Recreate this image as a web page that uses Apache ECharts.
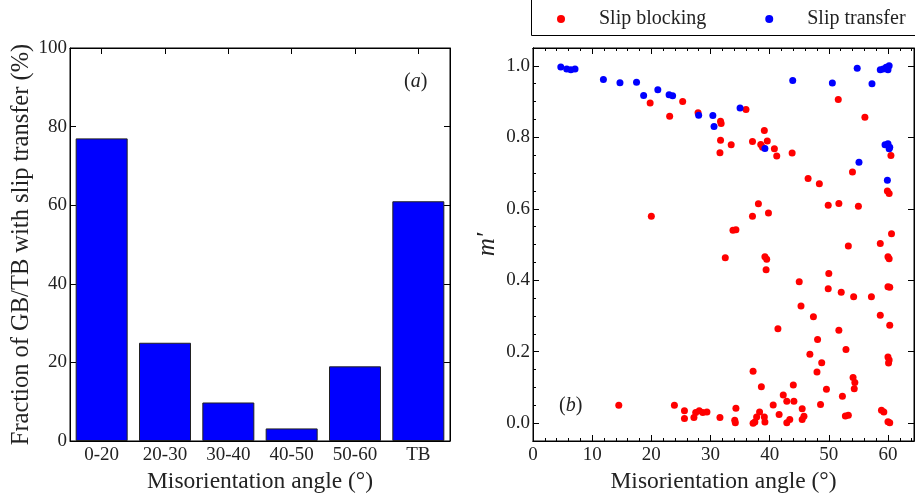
<!DOCTYPE html>
<html>
<head>
<meta charset="utf-8">
<script src="https://cdn.jsdelivr.net/npm/echarts@6/dist/echarts.min.js"></script>
<style>
html,body{margin:0;padding:0;background:#fff;}
#chart{width:915px;height:499px;}
</style>
</head>
<body>
<div id="chart"></div>
<script>
// ---- Data ----
var barCategories = ['0-20', '20-30', '30-40', '40-50', '50-60', 'TB'];
var barValues = [77, 25, 9.8, 3.2, 19, 61];
var barYTicks = [0, 20, 40, 60, 80, 100];

var slipBlocking = [
  [19.8,0.896],[25.3,0.900],[23.1,0.859],[27.9,0.869],[31.7,0.845],[31.8,0.839],[31.7,0.792],[31.6,0.757],
  [33.5,0.779],[20.0,0.579],[36.0,0.878],[51.6,0.906],[56.1,0.856],[39.1,0.819],[37.1,0.788],[38.5,0.780],
  [39.6,0.790],[38.8,0.772],[40.8,0.768],[41.2,0.748],[43.8,0.756],[60.5,0.749],[54.0,0.703],[46.5,0.685],
  [48.4,0.670],[59.9,0.650],[60.2,0.643],[38.1,0.614],[39.8,0.588],[37.1,0.579],[49.9,0.610],[51.7,0.615],
  [55.0,0.607],[33.8,0.540],[34.3,0.541],[60.6,0.530],[53.3,0.496],[58.7,0.503],[32.5,0.463],
  [39.2,0.466],[39.5,0.459],[39.4,0.429],[60.0,0.466],[60.2,0.460],[50.0,0.419],[45.0,0.396],[49.9,0.376],
  [60.0,0.382],[60.3,0.380],[52.1,0.366],[54.2,0.354],[57.2,0.354],[45.3,0.328],[47.4,0.298],[58.7,0.302],
  [60.3,0.274],[41.4,0.264],[51.7,0.260],[48.1,0.234],[52.9,0.206],[46.8,0.193],[48.8,0.169],[60.0,0.185],
  [60.2,0.177],[60.1,0.168],[37.2,0.145],[48.0,0.143],[54.1,0.128],[54.4,0.114],[54.3,0.096],[38.6,0.102],
  [44.0,0.107],[49.6,0.095],[42.3,0.079],[52.3,0.075],[42.9,0.061],[44.1,0.061],[40.6,0.051],[48.6,0.052],
  [34.3,0.042],[14.5,0.050],[23.9,0.050],[25.6,0.035],[25.6,0.013],[27.2,0.016],[27.5,0.030],[28.1,0.035],
  [28.7,0.030],[29.4,0.031],[31.6,0.016],[34.1,0.008],[34.2,0.001],[38.3,0.031],[37.8,0.017],[39.1,0.017],
  [37.5,0.003],[39.2,0.003],[37.2,0.000],[41.6,0.024],[43.4,0.010],[42.9,0.001],[45.5,0.040],[45.8,0.019],
  [45.5,0.010],[52.8,0.020],[53.3,0.022],[58.9,0.036],[59.3,0.031],[60.0,0.004],[60.3,0.001]
];
var slipTransfer = [
  [4.7,0.997],[5.7,0.991],[6.4,0.989],[7.1,0.991],[11.9,0.962],[14.7,0.953],[17.5,0.954],[18.7,0.917],
  [21.1,0.933],[23.0,0.919],[23.6,0.916],[28.0,0.862],[30.4,0.861],[30.6,0.830],[35.0,0.882],[39.2,0.769],
  [43.9,0.959],[50.6,0.952],[54.8,0.993],[57.3,0.950],[58.7,0.989],[59.2,0.991],[59.7,0.996],[60.2,1.000],
  [60.0,0.989],[55.1,0.730],[59.5,0.779],[60.0,0.782],[60.3,0.772],[60.2,0.768],[59.9,0.680]
];
var scatterXTicks = [0, 10, 20, 30, 40, 50, 60];
var scatterYTicks = [0.0, 0.2, 0.4, 0.6, 0.8, 1.0];

// ---- Chart ----
var FONT = 'Liberation Serif';
var TXT = '#222';
var chart = echarts.init(document.getElementById('chart'), null, {renderer: 'canvas'});

function tickOnly(extra) {
  var base = {
    axisLine: {show: true, onZero: false, lineStyle: {color: '#000', width: 1}},
    axisTick: {show: true, inside: true, length: 6, lineStyle: {color: '#000', width: 1}},
    axisLabel: {show: false},
    splitLine: {show: false}
  };
  return Object.assign(base, extra);
}
function isOn(v, list) {
  for (var i = 0; i < list.length; i++) if (Math.abs(v - list[i]) < 1e-6) return true;
  return false;
}

var option = {
  backgroundColor: '#fff',
  animation: false,
  textStyle: {fontFamily: FONT},
  legend: {
    data: ['Slip blocking', 'Slip transfer'],
    left: 552, top: 4,
    icon: 'circle', itemWidth: 8, itemHeight: 8, itemGap: 59,
    textStyle: {fontFamily: FONT, fontSize: 20, color: TXT, padding: [0, 0, 0, 29]}
  },
  graphic: [
    {type: 'rect', shape: {x: 531.5, y: -2, width: 400, height: 37.5}, style: {fill: 'none', stroke: '#000', lineWidth: 1}, z: 100},
    {type: 'text', left: 404, top: 72, style: {text: '{p|(}{i|a}{p|)}', rich: {
      p: {fontFamily: FONT, fontSize: 20, fill: TXT},
      i: {fontFamily: FONT, fontSize: 20, fontStyle: 'italic', fill: TXT}}}},
    {type: 'text', left: 559, top: 396, style: {text: '{p|(}{i|b}{p|)}', rich: {
      p: {fontFamily: FONT, fontSize: 20, fill: TXT},
      i: {fontFamily: FONT, fontSize: 20, fontStyle: 'italic', fill: TXT}}}}
  ],
  grid: [
    {left: 70, top: 48, width: 380, height: 393, show: true, borderColor: '#000', borderWidth: 1},
    {left: 533, top: 48, width: 381, height: 393, show: true, borderColor: '#000', borderWidth: 1}
  ],
  xAxis: [
    {gridIndex: 0, type: 'category', data: barCategories, position: 'bottom',
     name: 'Misorientation angle (°)', nameLocation: 'middle', nameGap: 26,
     nameTextStyle: {fontFamily: FONT, fontSize: 23.5, color: TXT},
     axisLine: {onZero: false, lineStyle: {color: '#000'}},
     axisTick: {inside: true, alignWithLabel: true, length: 6, lineStyle: {color: '#000'}},
     axisLabel: {fontFamily: FONT, fontSize: 19, color: TXT, margin: 5},
     splitLine: {show: false}},
    tickOnly({gridIndex: 0, type: 'category', data: barCategories, position: 'top',
     axisTick: {show: true, inside: true, alignWithLabel: true, length: 6, lineStyle: {color: '#000'}}}),
    {gridIndex: 1, type: 'value', min: 0, max: 64.4, minInterval: 10, maxInterval: 10, position: 'bottom',
     name: 'Misorientation angle (°)', nameLocation: 'middle', nameGap: 26,
     nameTextStyle: {fontFamily: FONT, fontSize: 23.5, color: TXT},
     axisLine: {onZero: false, lineStyle: {color: '#000'}},
     axisTick: {inside: true, length: 6, lineStyle: {color: '#000'}},
     axisLabel: {fontFamily: FONT, fontSize: 19, color: TXT, margin: 5, showMaxLabel: false,
       formatter: function (v) { return isOn(v, scatterXTicks) ? String(v) : ''; }},
     splitLine: {show: false}},
    tickOnly({gridIndex: 1, type: 'value', min: 0, max: 64.4, interval: 2, position: 'bottom',
     axisTick: {show: true, inside: true, length: 3, lineStyle: {color: '#000'}}}),
    tickOnly({gridIndex: 1, type: 'value', min: 0, max: 64.4, minInterval: 10, maxInterval: 10, position: 'top'}),
    tickOnly({gridIndex: 1, type: 'value', min: 0, max: 64.4, interval: 2, position: 'top',
     axisTick: {show: true, inside: true, length: 3, lineStyle: {color: '#000'}}})
  ],
  yAxis: [
    {gridIndex: 0, type: 'value', min: 0, max: 100, interval: 20, position: 'left',
     name: 'Fraction of GB/TB with slip transfer (%)', nameLocation: 'middle', nameGap: 36,
     nameTextStyle: {fontFamily: FONT, fontSize: 24.5, color: TXT},
     axisLine: {show: true, onZero: false, lineStyle: {color: '#000'}},
     axisTick: {show: true, inside: true, length: 6, lineStyle: {color: '#000'}},
     axisLabel: {fontFamily: FONT, fontSize: 19, color: TXT, margin: 3,
       formatter: function (v) { return isOn(v, barYTicks) ? String(v) : ''; }},
     splitLine: {show: false}},
    tickOnly({gridIndex: 0, type: 'value', min: 0, max: 100, interval: 20, position: 'right'}),
    {gridIndex: 1, type: 'value', min: -0.05, max: 1.05, minInterval: 0.2, maxInterval: 0.2, position: 'left',
     name: 'm′', nameLocation: 'middle', nameGap: 33,
     nameTextStyle: {fontFamily: FONT, fontSize: 25, fontStyle: 'italic', color: TXT},
     axisLine: {show: true, onZero: false, lineStyle: {color: '#000'}},
     axisTick: {show: true, inside: true, length: 6, lineStyle: {color: '#000'}},
     axisLabel: {fontFamily: FONT, fontSize: 19, color: TXT, margin: 3, showMinLabel: false, showMaxLabel: false,
       formatter: function (v) { return isOn(v, scatterYTicks) ? v.toFixed(1) : ''; }},
     splitLine: {show: false}},
    tickOnly({gridIndex: 1, type: 'value', min: -0.05, max: 1.05, interval: 0.05, position: 'left',
     axisTick: {show: true, inside: true, length: 3, lineStyle: {color: '#000'}}}),
    tickOnly({gridIndex: 1, type: 'value', min: -0.05, max: 1.05, minInterval: 0.2, maxInterval: 0.2, position: 'right'})
  ],
  series: [
    {type: 'bar', xAxisIndex: 0, yAxisIndex: 0, data: barValues, barWidth: 52,
     itemStyle: {color: '#0000ff', borderColor: '#222', borderWidth: 1}},
    {name: 'Slip blocking', type: 'scatter', xAxisIndex: 2, yAxisIndex: 2, data: slipBlocking,
     symbol: 'circle', symbolSize: 7, itemStyle: {color: '#ff0000', opacity: 1}},
    {name: 'Slip transfer', type: 'scatter', xAxisIndex: 2, yAxisIndex: 2, data: slipTransfer,
     symbol: 'circle', symbolSize: 7, itemStyle: {color: '#0000ff', opacity: 1}}
  ]
};
chart.setOption(option);
</script>
</body>
</html>
